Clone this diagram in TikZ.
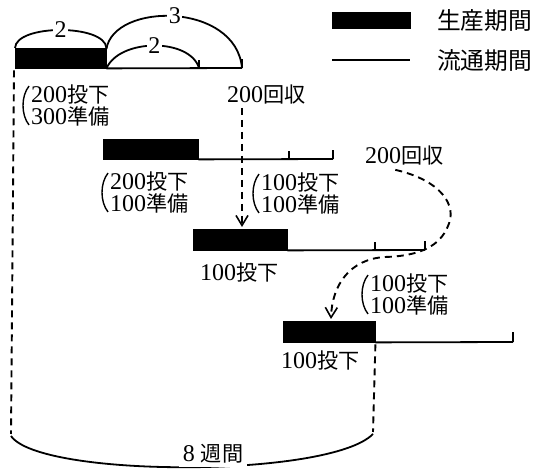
\documentclass[tikz,border=0pt]{standalone}
\usepackage{fontspec}
\setmainfont{Liberation Serif}
\newfontfamily\cjkjp[Scale=0.88]{Noto Sans CJK JP}
\newcommand{\J}[1]{{\cjkjp #1}}
\usetikzlibrary{arrows.meta}
\begin{document}
\begin{tikzpicture}[x=1pt,y=-1pt,
  bar/.style={fill=black,draw=black,anchor=north west,inner sep=0pt,minimum height=20pt},
  flow/.style={line width=1.8pt},
  tick/.style={line width=1.8pt},
  dsh/.style={line width=1.9pt,dash pattern=on 7pt off 5pt},
  darrow/.style={dsh,-{Straight Barb[length=10pt,width=12pt,line width=1.6pt]}},
  arcline/.style={line width=1.8pt},
  lbl/.style={font=\fontsize{24}{22}\selectfont,inner sep=0pt,align=left,anchor=west},
  num/.style={fill=white,inner sep=1.5pt,font=\fontsize{24}{24}\selectfont},
  paren/.style={line width=1.4pt}
]
\useasboundingbox (0,0) rectangle (542,470);

% legend
\node[bar,minimum width=78pt,minimum height=16pt] (lgbar) at (332,12) {};
\node[lbl,font=\fontsize{27}{27}\selectfont] (lgt1) at (437,21) {\J{生産期間}};
\coordinate (lgl1) at (332,60);
\coordinate (lgl2) at (410,60);
\draw[flow] (lgl1) -- (lgl2);
\node[lbl,font=\fontsize{27}{27}\selectfont] (lgt2) at (437,61) {\J{流通期間}};

% row 1
\node[bar,minimum width=91pt] (b1) at (15,48) {};
\coordinate (t1) at (199,68);
\coordinate (e1) at (242,68);
\draw[flow] (b1.south east) -- (e1);
\draw[tick] (t1) -- ++(0,-8);
\draw[tick] (e1) -- ++(0,-9);
% arcs
\draw[arcline] (b1.north west) .. controls (16,24) and (105,24) .. (b1.north east)
  node[num,pos=0.5] (n2a) {2};
\draw[arcline] ([yshift=-1pt]b1.north east) .. controls (114,2) and (236,2) .. (e1)
  node[num,pos=0.5] (n3) {3};
\draw[arcline] (b1.south east) .. controls (120,38) and (190,38) .. (t1)
  node[num,pos=0.5] (n2b) {2};

% row 1 labels
\node[lbl] (l1) at (31,105) {200\J{投下}\\300\J{準備}};
\draw[paren] ([xshift=-2pt,yshift=-2pt]l1.north west) .. controls +(-8pt,-10pt) and +(-8pt,10pt) .. ([xshift=-2pt,yshift=1pt]l1.south west);
\node[lbl] (r1) at (227,95) {200\J{回収}};

% row 2
\node[bar,minimum width=95pt] (b2) at (103,139) {};
\coordinate (t2) at (289,159);
\coordinate (e2) at (333,159);
\draw[flow] (b2.south east) -- (e2);
\draw[tick] (t2) -- ++(0,-8);
\draw[tick] (e2) -- ++(0,-9);
\node[lbl] (l2) at (110,192) {200\J{投下}\\100\J{準備}};
\draw[paren] ([xshift=-2pt,yshift=-2pt]l2.north west) .. controls +(-8pt,-10pt) and +(-8pt,10pt) .. ([xshift=-2pt,yshift=1pt]l2.south west);
\node[lbl] (l3) at (261,193) {100\J{投下}\\100\J{準備}};
\draw[paren] ([xshift=-2pt,yshift=-2pt]l3.north west) .. controls +(-8pt,-10pt) and +(-8pt,10pt) .. ([xshift=-2pt,yshift=1pt]l3.south west);
\node[lbl] (r2) at (365,156) {200\J{回収}};

% row 3
\node[bar,minimum width=94pt,minimum height=21pt] (b3) at (193,229) {};
\coordinate (t3) at (375,250);
\coordinate (e3) at (425,250);
\draw[flow] (b3.south east) -- (e3);
\draw[tick] (t3) -- ++(0,-8);
\draw[tick] (e3) -- ++(0,-9);
\node[lbl] (l5) at (200,272) {100\J{投下}};

% row 4
\node[bar,minimum width=92pt,minimum height=21pt] (b4) at (283,321) {};
\coordinate (e4) at (513,342);
\draw[flow] (b4.south east) -- (e4);
\draw[tick] (e4) -- ++(0,-10);
\node[lbl] (l4) at (370,294) {100\J{投下}\\100\J{準備}};
\draw[paren] ([xshift=-2pt,yshift=-2pt]l4.north west) .. controls +(-8pt,-10pt) and +(-8pt,10pt) .. ([xshift=-2pt,yshift=1pt]l4.south west);
\node[lbl] (l6) at (281,360) {100\J{投下}};

% dashed arrows
\coordinate (a1) at (242,227);
\draw[darrow] (a1 |- r1.south) ++(0,3) -- (a1);
\coordinate (a2) at (331,319);
\draw[darrow] ([xshift=-9pt,yshift=-4pt]r2.south) .. controls (440,180) and (458,205) .. (448,226)
  .. controls (440,246) and (420,256) .. (385,257)
  .. controls (350,259) and (332,285) .. (a2);

% vertical dashed and brace
\coordinate (bl) at (11,434);
\coordinate (br) at (373,432);
\draw[dsh] ([xshift=-1pt,yshift=-2pt]b1.south west) -- (bl);
\draw[dsh] ([yshift=-2pt]b4.south east) -- (br);
\draw[arcline] ([yshift=-2pt]bl) .. controls (40,478) and (330,478) .. ([yshift=-2pt]br);
\node[fill=white,inner sep=4pt,font=\fontsize{24}{24}\selectfont] (w8) at (213,454) {8 \J{週間}};
\end{tikzpicture}
\end{document}
